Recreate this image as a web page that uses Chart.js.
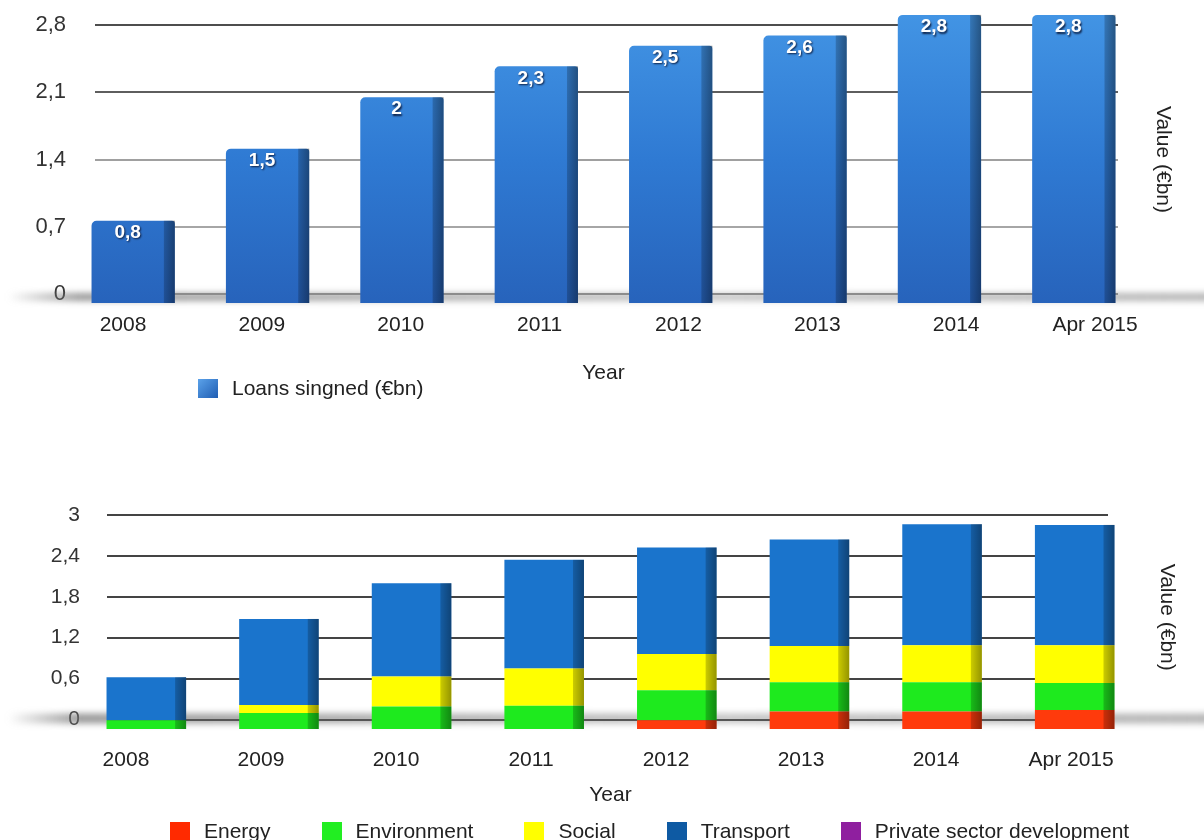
<!DOCTYPE html>
<html>
<head>
<meta charset="utf-8">
<title>EIB loans signed</title>
<script src="https://cdn.jsdelivr.net/npm/chart.js@4.4.1/dist/chart.umd.min.js"></script>
<style>
  html, body { margin: 0; padding: 0; background: #fff; }
  body { width: 1204px; height: 840px; position: relative; overflow: hidden;
         font-family: "Liberation Sans", Arial, sans-serif; }
  .wrap { position: absolute; left: 0; width: 1204px; }
  #wrapTop { top: 0; height: 420px; }
  #wrapBottom { top: 470px; height: 370px; }
  canvas { display: block; }
  .legend { position: absolute; display: flex; align-items: center; font-size: 21px;
            line-height: 20px; color: #222; white-space: nowrap; }
  .legend .item { display: flex; align-items: center; }
  .legend .box { width: 20px; height: 19px; margin-right: 14px; }
  #legendTop { left: 198px; top: 378px; }
  #legendBottom { left: 170px; top: 821px; gap: 51px; }
</style>
</head>
<body>
<div class="wrap" id="wrapTop"><canvas id="topChart" width="1204" height="420"></canvas></div>
<div class="wrap" id="wrapBottom"><canvas id="bottomChart" width="1204" height="370"></canvas></div>
<div class="legend" id="legendTop"></div>
<div class="legend" id="legendBottom"></div>

<script>
// ---- data -------------------------------------------------------------
const categories    = ['2008', '2009', '2010', '2011', '2012', '2013', '2014', 'Apr 2015'];
const loansSigned   = [0.8, 1.5, 2, 2.3, 2.5, 2.6, 2.8, 2.8];

const energy        = [0, 0, 0, 0, 0.12, 0.24, 0.24, 0.26];
const environment   = [0.12, 0.22, 0.31, 0.32, 0.41, 0.40, 0.40, 0.37];
const social        = [0, 0.11, 0.41, 0.51, 0.50, 0.50, 0.51, 0.52];
const transport     = [0.59, 1.18, 1.28, 1.49, 1.46, 1.46, 1.66, 1.65];
const privateSector = [0, 0, 0, 0, 0, 0, 0, 0];

const topTicks    = [0, 0.7, 1.4, 2.1, 2.8];
const bottomTicks = [0, 0.6, 1.2, 1.8, 2.4, 3];

// ---- helpers ----------------------------------------------------------
const FONT = '"Liberation Sans", Arial, sans-serif';
const fmt = v => String(Math.round(v * 100) / 100).replace('.', ',');

// Back wall: soft floor shadow plus the horizontal grid lines, drawn behind the bars.
const backWall = {
  id: 'backWall',
  beforeDatasetsDraw(chart, args, o) {
    const { ctx } = chart;
    const y = chart.scales.y;
    const zero = y.getPixelForValue(0);
    ctx.save();
    ctx.filter = 'blur(3px)';
    const g = ctx.createLinearGradient(o.floorX0, 0, chart.width, 0);
    g.addColorStop(0, 'rgba(120,120,120,0)');
    g.addColorStop(0.06, 'rgba(120,120,120,0.75)');
    g.addColorStop(0.6, 'rgba(150,150,150,0.55)');
    g.addColorStop(1, 'rgba(150,150,150,0.7)');
    ctx.fillStyle = g;
    ctx.fillRect(o.floorX0, zero + o.floorDy, chart.width - o.floorX0 + 20, o.floorH);
    ctx.filter = 'none';
    ctx.lineWidth = 2;
    y.ticks.forEach((t, i) => {
      const py = Math.round(y.getPixelForValue(t.value));
      ctx.strokeStyle = o.lineColors[i] || '#666';
      ctx.beginPath();
      ctx.moveTo(o.x0, py);
      ctx.lineTo(o.x1, py);
      ctx.stroke();
    });
    ctx.restore();
  }
};

// Shaded right-hand side of each bar (3D look) and optional value labels.
const barFaces = {
  id: 'barFaces',
  afterDatasetsDraw(chart, args, o) {
    const { ctx } = chart;
    ctx.save();
    chart.data.datasets.forEach((ds, di) => {
      const meta = chart.getDatasetMeta(di);
      meta.data.forEach(bar => {
        const { x, y, base, width } = bar.getProps(['x', 'y', 'base', 'width'], true);
        const h = base - y;
        if (Math.abs(h) < 0.5) return;
        const right = x + width / 2;
        const g = ctx.createLinearGradient(right - o.side, 0, right, 0);
        g.addColorStop(0, 'rgba(0,0,0,0.20)');
        g.addColorStop(1, 'rgba(0,0,0,0.42)');
        ctx.fillStyle = g;
        ctx.fillRect(right - o.side, y, o.side, h);
      });
    });
    if (o.labels) {
      const meta = chart.getDatasetMeta(0);
      const values = chart.data.datasets[0].data;
      ctx.font = 'bold 19px ' + FONT;
      ctx.textAlign = 'center';
      ctx.textBaseline = 'middle';
      ctx.fillStyle = '#ffffff';
      ctx.shadowColor = 'rgba(10,25,60,0.95)';
      ctx.shadowBlur = 2;
      ctx.shadowOffsetX = 1;
      ctx.shadowOffsetY = 1.5;
      meta.data.forEach((bar, i) => {
        const { x, y } = bar.getProps(['x', 'y'], true);
        ctx.fillText(fmt(values[i]), x - o.side / 2, y + o.labelDy);
      });
    }
    ctx.restore();
  }
};

function topGradient(c) {
  const a = c.chart.chartArea;
  if (!a) return '#2f7bd4';
  const g = c.chart.ctx.createLinearGradient(0, a.top - 10, 0, a.bottom + 10);
  g.addColorStop(0, '#4294e4');
  g.addColorStop(0.5, '#2f7ad3');
  g.addColorStop(1, '#2763bb');
  return g;
}

function commonScales(cfg) {
  return {
    x: { type: 'category', display: false, offset: true, stacked: cfg.stacked },
    // tick labels along the floor, spread a little wider than the bars (perspective)
    xl: {
      type: 'linear', position: 'bottom', offset: false, bounds: 'data',
      min: cfg.labelMin, max: cfg.labelMax,
      afterBuildTicks: s => { s.ticks = categories.map((_, i) => ({ value: i })); },
      afterFit: s => { s.height = cfg.xHeight; },
      ticks: { callback: (v, i) => categories[i], autoSkip: false, maxRotation: 0,
               padding: cfg.xPad, color: '#222', font: { family: FONT, size: 21 } },
      grid: { display: false, drawTicks: false, offset: false },
      border: { display: false },
      title: { display: true, text: 'Year', color: '#222', font: { family: FONT, size: 21 },
               padding: { top: 0, bottom: cfg.titlePad } }
    },
    // back-wall value axis (tick labels and grid)
    y: {
      position: 'left', min: cfg.ticks[0], max: cfg.ticks[cfg.ticks.length - 1],
      afterBuildTicks: s => { s.ticks = cfg.ticks.map(v => ({ value: v })); },
      afterFit: s => { s.width = cfg.yWidth; },
      ticks: { callback: v => fmt(v), padding: 0, color: '#333',
               font: { family: FONT, size: cfg.yFont } },
      grid: { display: false, drawTicks: false },
      border: { display: false }
    },
    // front faces of the bars sit lower and read taller than the back wall
    yf: { display: false, beginAtZero: false, bounds: 'data',
          min: cfg.frontMin, max: cfg.frontMax, stacked: cfg.stacked },
    yr: {
      position: 'right', afterFit: s => { s.width = 63; },
      ticks: { display: false }, grid: { display: false, drawTicks: false }, border: { display: false },
      title: { display: true, text: 'Value (€bn)', color: '#222', font: { family: FONT, size: 21 },
               padding: { top: cfg.rTitlePad, bottom: 0 } }
    }
  };
}

// ---- top chart: loans signed ------------------------------------------
const topChart = new Chart(document.getElementById('topChart'), {
  type: 'bar',
  data: {
    labels: categories,
    datasets: [{
      label: 'Loans singned (€bn)',
      data: loansSigned,
      backgroundColor: topGradient,
      legendColor: 'linear-gradient(135deg,#5ba2ea,#1f5db2)',
      borderRadius: { topLeft: 5, topRight: 3 },
      borderSkipped: 'bottom',
      xAxisID: 'x', yAxisID: 'yf', clip: false,
      barPercentage: 0.62, categoryPercentage: 1
    }]
  },
  options: {
    responsive: false, animation: false, devicePixelRatio: 1,
    layout: { padding: { top: 25, left: 0, right: 0, bottom: 0 } },
    plugins: {
      legend: { display: false }, tooltip: { enabled: false },
      backWall: { x0: 95, x1: 1118, floorX0: 8, floorDy: -1, floorH: 8,
                  lineColors: ['#8c8c8c', '#a6a6a6', '#a0a0a0', '#5e5e5e', '#4e4e4e'] },
      barFaces: { side: 11, labels: true, labelDy: 12 }
    },
    scales: commonScales({
      stacked: false, ticks: topTicks, labelMin: -0.4105, labelMax: 7.331,
      xHeight: 126, xPad: 18.4, titlePad: 34.4, yWidth: 66, yFont: 22,
      frontMin: 0.0875, frontMax: 2.7017, rTitlePad: 28.4
    })
  },
  plugins: [backWall, barFaces]
});

// ---- bottom chart: loans by sector ------------------------------------
const sectorSeries = [
  { label: 'Energy', data: energy, color: '#ff3a0c', legend: '#ff2a00' },
  { label: 'Environment', data: environment, color: '#1eea1e', legend: '#22ee22' },
  { label: 'Social', data: social, color: '#ffff00', legend: '#ffff00' },
  { label: 'Transport', data: transport, color: '#1a74cc', legend: '#0e5aa3' },
  { label: 'Private sector development', data: privateSector, color: '#8f1f9f', legend: '#8f1f9f' }
];

const bottomChart = new Chart(document.getElementById('bottomChart'), {
  type: 'bar',
  data: {
    labels: categories,
    datasets: sectorSeries.map(s => ({
      label: s.label, data: s.data, backgroundColor: s.color, legendColor: s.legend,
      xAxisID: 'x', yAxisID: 'yf', clip: false, stack: 'sectors',
      barPercentage: 0.6, categoryPercentage: 1, borderSkipped: false
    }))
  },
  options: {
    responsive: false, animation: false, devicePixelRatio: 1,
    layout: { padding: { top: 45, left: 0, right: 0, bottom: 0 } },
    plugins: {
      legend: { display: false }, tooltip: { enabled: false },
      backWall: { x0: 107, x1: 1108, floorX0: 8, floorDy: -6, floorH: 10,
                  lineColors: ['#555', '#444', '#444', '#444', '#444', '#444'] },
      barFaces: { side: 11, labels: false }
    },
    scales: commonScales({
      stacked: true, ticks: bottomTicks, labelMin: -0.3404, labelMax: 7.518,
      xHeight: 120.5, xPad: 28, titlePad: 32.4, yWidth: 80, yFont: 21,
      frontMin: 0.1303, frontMax: 2.9355, rTitlePad: 24.4
    })
  },
  plugins: [backWall, barFaces]
});

// ---- legends built from the chart datasets ----------------------------
function buildLegend(chart, el) {
  chart.data.datasets.forEach(ds => {
    const item = document.createElement('div');
    item.className = 'item';
    const box = document.createElement('span');
    box.className = 'box';
    box.style.background = ds.legendColor;
    const txt = document.createElement('span');
    txt.textContent = ds.label;
    item.appendChild(box);
    item.appendChild(txt);
    el.appendChild(item);
  });
}
buildLegend(topChart, document.getElementById('legendTop'));
buildLegend(bottomChart, document.getElementById('legendBottom'));
</script>
</body>
</html>
